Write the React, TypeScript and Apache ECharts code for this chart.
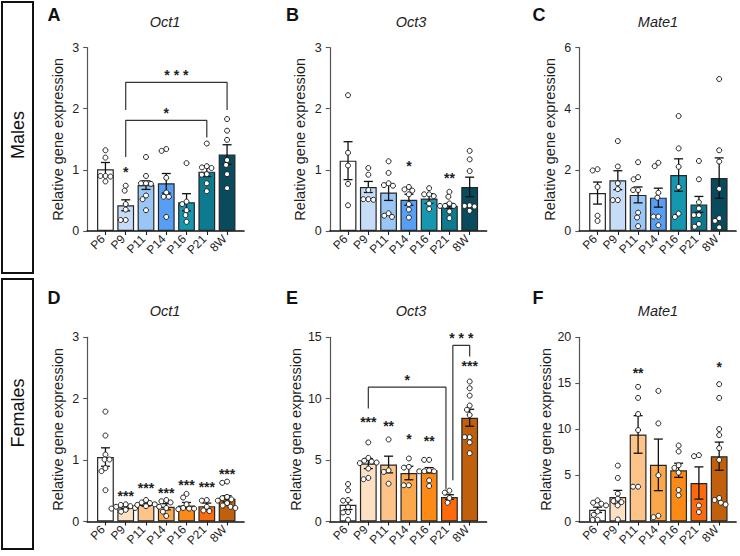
import React, { useEffect, useRef } from "react";
import * as echarts from "echarts";

const FONT = "Liberation Sans, Arial, Helvetica, sans-serif";

const CATS = ["P6", "P9", "P11", "P14", "P16", "P21", "8W"];
const MALE_COLORS = ["#ffffff", "#c7ddf7", "#9ac6f6", "#579ff4", "#1597b0", "#0c7a8f", "#094a5d"];
const FEMALE_COLORS = ["#ffffff", "#fde1c3", "#fdc388", "#fba84d", "#fc8a17", "#fc6a0c", "#c0600d"];

// Panel A – Oct1 males
const A_MEAN = [1.01, 0.42, 0.75, 0.78, 0.47, 0.97, 1.25];
const A_SEM = [0.11, 0.09, 0.07, 0.16, 0.14, 0.08, 0.16];
const A_POINTS = [
  [1.32, 1.2, 0.9, 0.9, 0.89, 0.81],
  [0.74, 0.66, 0.44, 0.35, 0.18, 0.18],
  [1.21, 0.9, 0.78, 0.78, 0.77, 0.58, 0.52, 0.34],
  [1.34, 1.31, 0.87, 0.63, 0.56, 0.56, 0.23],
  [1.11, 0.48, 0.44, 0.34, 0.26, 0.15],
  [1.43, 1.06, 1.04, 1.03, 0.93, 0.92, 0.78, 0.65],
  [1.83, 1.64, 1.49, 1.16, 1.08, 0.93, 0.7],
];
const A_STARS = [{ i: 1, y: 1.01, t: "*" }];
const A_BRACKETS = [
  { x1: 1, x2: 6, y: 2.43, y1: 1.98, y2: 1.98, ty: 2.6, t: "* * *" },
  { x1: 1, x2: 5, y: 1.81, y1: 1.21, y2: 1.53, ty: 1.98, t: "*" },
];

// Panel B – Oct3 males
const B_MEAN = [1.15, 0.72, 0.63, 0.51, 0.53, 0.41, 0.72];
const B_SEM = [0.31, 0.09, 0.13, 0.09, 0.08, 0.04, 0.16];
const B_POINTS = [
  [2.22, 1.28, 1.07, 0.77, 0.42],
  [1.03, 0.92, 0.67, 0.52, 0.52, 0.51],
  [1.14, 0.95, 0.78, 0.75, 0.74, 0.29, 0.25, 0.23],
  [0.72, 0.68, 0.66, 0.6, 0.44, 0.35, 0.22],
  [0.7, 0.6, 0.6, 0.57, 0.45, 0.36],
  [0.64, 0.56, 0.45, 0.41, 0.41, 0.41, 0.32, 0.21],
  [1.31, 1.17, 0.98, 0.42, 0.41, 0.4, 0.33],
];
const B_STARS = [
  { i: 3, y: 1.12, t: "*" },
  { i: 5, y: 0.92, t: "**" },
];
const B_BRACKETS: any[] = [];

// Panel C – Mate1 males
const C_MEAN = [1.24, 1.66, 1.18, 1.09, 1.83, 0.87, 1.73];
const C_SEM = [0.36, 0.31, 0.26, 0.31, 0.53, 0.26, 0.66];
const C_POINTS = [
  [2.02, 1.98, 1.44, 0.5, 0.33],
  [2.94, 2.11, 1.56, 1.37, 1.01, 1.01],
  [2.25, 1.76, 1.69, 1.34, 1.34, 0.6, 0.44, 0.16],
  [2.23, 2.12, 1.25, 1.09, 0.47, 0.47, 0.19],
  [3.76, 2.7, 2.1, 1.44, 0.57, 0.46],
  [2.29, 1.69, 0.94, 0.74, 0.52, 0.52, 0.23, 0.14],
  [4.97, 2.64, 2.27, 1.38, 0.42, 0.33, 0.12],
];
const C_STARS: any[] = [];
const C_BRACKETS: any[] = [];

// Panel D – Oct1 females
const D_MEAN = [1.05, 0.23, 0.27, 0.24, 0.26, 0.25, 0.37];
const D_SEM = [0.15, 0.02, 0.02, 0.05, 0.05, 0.05, 0.05];
const D_POINTS = [
  [1.79, 1.4, 1.09, 1.01, 1.01, 0.87, 0.82, 0.51],
  [0.28, 0.27, 0.25, 0.24, 0.22, 0.21, 0.19, 0.16],
  [0.35, 0.31, 0.3, 0.28, 0.27, 0.25, 0.24],
  [0.35, 0.33, 0.31, 0.22, 0.16, 0.09],
  [0.45, 0.39, 0.28, 0.22, 0.21, 0.21, 0.2],
  [0.35, 0.34, 0.24, 0.18, 0.17],
  [0.65, 0.63, 0.4, 0.38, 0.36, 0.34, 0.3, 0.26, 0.24, 0.22],
];
const D_STARS = [
  { i: 1, y: 0.47, t: "***" },
  { i: 2, y: 0.59, t: "***" },
  { i: 3, y: 0.52, t: "***" },
  { i: 4, y: 0.65, t: "***" },
  { i: 5, y: 0.61, t: "***" },
  { i: 6, y: 0.83, t: "***" },
];
const D_BRACKETS: any[] = [];

// Panel E – Oct3 females
const E_MEAN = [1.36, 4.72, 4.64, 3.95, 4.17, 1.99, 8.45];
const E_SEM = [0.38, 0.41, 0.68, 0.55, 0.22, 0.19, 0.69];
const E_POINTS = [
  [3.05, 2.54, 1.75, 1.7, 1.17, 0.76, 0.73, 0.14],
  [6.44, 5.18, 4.95, 4.88, 4.8, 4.75, 4.31, 3.55, 3.44],
  [6.68, 4.17, 4.04, 3.08],
  [5.13, 4.45, 4.39, 2.95, 2.95],
  [5.02, 5.02, 4.17, 4.09, 4.09, 4.09, 3.35, 2.89],
  [2.51, 2.35, 1.91, 1.53],
  [11.4, 10.85, 10.25, 9.44, 9.1, 8.67, 6.87, 6.87, 6.44, 5.56],
];
const E_STARS = [
  { i: 1, y: 8.4, t: "***" },
  { i: 2, y: 8.04, t: "**" },
  { i: 3, y: 6.98, t: "*" },
  { i: 4, y: 6.84, t: "**" },
  { i: 6, y: 12.9, t: "***" },
];
const E_BRACKETS = [
  { x1: 1, x2: 4.83, y: 10.94, y1: 9.2, y2: 2.62, ty: 11.8, t: "*" },
  { x1: 5.17, x2: 6, y: 14.34, y1: 3.35, y2: 13.44, ty: 15.2, t: "* * *" },
];

// Panel F – Mate1 females
const F_MEAN = [1.27, 2.65, 9.45, 6.15, 5.56, 4.18, 7.09];
const F_SEM = [0.29, 0.73, 2.04, 2.8, 0.77, 1.75, 1.53];
const F_POINTS = [
  [2.29, 2.04, 1.93, 1.75, 1.09, 0.73, 0.2, 0.18],
  [6.07, 4.73, 3.02, 2.47, 2.22, 2.1, 1.75, 0.22],
  [14.62, 13.42, 11.67, 9.93, 3.78, 3.78],
  [14.18, 10.65, 5.02, 0.62, 0.47],
  [8.25, 7.6, 6.11, 5.82, 5.31, 3.42, 2.84],
  [7.2, 7.09, 1.75, 1.02],
  [14.91, 13.42, 10.04, 9.38, 7.96, 6.69, 2.55, 2.33, 2.04, 1.85],
];
const F_STARS = [
  { i: 2, y: 16.47, t: "**" },
  { i: 6, y: 17.1, t: "*" },
];
const F_BRACKETS: any[] = [];

const PANELS = [
  { letter: "A", gene: "Oct1", mean: A_MEAN, sem: A_SEM, pts: A_POINTS, stars: A_STARS, brackets: A_BRACKETS, colors: MALE_COLORS, ymax: 3, yint: 1 },
  { letter: "B", gene: "Oct3", mean: B_MEAN, sem: B_SEM, pts: B_POINTS, stars: B_STARS, brackets: B_BRACKETS, colors: MALE_COLORS, ymax: 3, yint: 1 },
  { letter: "C", gene: "Mate1", mean: C_MEAN, sem: C_SEM, pts: C_POINTS, stars: C_STARS, brackets: C_BRACKETS, colors: MALE_COLORS, ymax: 6, yint: 2 },
  { letter: "D", gene: "Oct1", mean: D_MEAN, sem: D_SEM, pts: D_POINTS, stars: D_STARS, brackets: D_BRACKETS, colors: FEMALE_COLORS, ymax: 3, yint: 1 },
  { letter: "E", gene: "Oct3", mean: E_MEAN, sem: E_SEM, pts: E_POINTS, stars: E_STARS, brackets: E_BRACKETS, colors: FEMALE_COLORS, ymax: 15, yint: 5 },
  { letter: "F", gene: "Mate1", mean: F_MEAN, sem: F_SEM, pts: F_POINTS, stars: F_STARS, brackets: F_BRACKETS, colors: FEMALE_COLORS, ymax: 20, yint: 5 },
];

// layout
const GRID_LEFTS = [87.2, 329.8, 579.3];
const GRID_TOPS = [47.5, 337.3];
const GRID_HEIGHTS = [183.5, 184.2];
const GRID_WIDTH = 156.7;
const XMIN = -0.9;
const XMAX = 6.83;
const LETTER_X = [47.5, 286, 532.5];
const LETTER_Y = [15.3, 297.8];
const TITLE_X = [165, 411, 658];
const TITLE_Y = [22, 310.5];
const INK = "#1e1e1e";
const YAXIS_INK = "#555555";

function swarm(vals: number[], yPx: number, xPx: number): number[] {
  const D = 5.0;
  const order = vals.map((_, i) => i).sort((a, b) => vals[b] - vals[a]);
  const placed: { x: number; y: number }[] = [];
  const res = new Array(vals.length).fill(0);
  for (const i of order) {
    const y = vals[i] * yPx;
    const cands = [0];
    for (const p of placed) {
      const dy = Math.abs(y - p.y);
      if (dy < D) {
        const dx = Math.sqrt(D * D - dy * dy);
        cands.push(p.x + dx + 0.01, p.x - dx - 0.01);
      }
    }
    const ok = cands.filter((c) => placed.every((p) => Math.hypot(c - p.x, y - p.y) >= D - 0.001));
    ok.sort((a, b) => Math.abs(a) - Math.abs(b) || a - b);
    const x = ok.length ? ok[0] : 0;
    placed.push({ x, y });
    res[i] = x / xPx;
  }
  return res;
}

function buildOption() {
  const grid: any[] = [];
  const xAxis: any[] = [];
  const yAxis: any[] = [];
  const series: any[] = [];
  const graphic: any[] = [];
  const xPx = GRID_WIDTH / (XMAX - XMIN);

  PANELS.forEach((p, k) => {
    const row = Math.floor(k / 3);
    const col = k % 3;
    const h = GRID_HEIGHTS[row];
    grid.push({
      left: GRID_LEFTS[col],
      top: GRID_TOPS[row],
      width: GRID_WIDTH,
      height: h,
      containLabel: false,
      outerBoundsMode: "none",
    });
    xAxis.push({
      type: "value",
      gridIndex: k,
      min: XMIN,
      max: XMAX,
      splitLine: { show: false },
      axisLine: { show: true, onZero: false, lineStyle: { color: "#111", width: 1.7 } },
      axisTick: { show: true, length: 4, customValues: [0, 1, 2, 3, 4, 5, 6], lineStyle: { color: INK, width: 1.1 } },
      axisLabel: { show: false },
    });
    yAxis.push({
      type: "value",
      gridIndex: k,
      min: 0,
      max: p.ymax,
      interval: p.yint,
      name: "Relative gene expression",
      nameLocation: "middle",
      nameGap: 22,
      nameTextStyle: { fontSize: 14.5, color: INK, fontFamily: FONT },
      splitLine: { show: false },
      axisLine: { show: true, onZero: false, lineStyle: { color: YAXIS_INK, width: 1.2 } },
      axisTick: { show: true, length: 4, lineStyle: { color: YAXIS_INK, width: 1.1 } },
      axisLabel: { show: true, margin: 8, fontSize: 12.5, color: INK, fontFamily: FONT },
    });

    // bars
    series.push({
      type: "bar",
      xAxisIndex: k,
      yAxisIndex: k,
      barWidth: 16.8,
      silent: true,
      z: 2,
      itemStyle: { borderColor: "#262626", borderWidth: 1.2 },
      data: p.mean.map((m, i) => ({ value: [i, m], itemStyle: { color: p.colors[i] } })),
    });

    // error bars
    series.push({
      type: "custom",
      xAxisIndex: k,
      yAxisIndex: k,
      z: 3,
      silent: true,
      clip: false,
      encode: { x: 0, y: [1, 2] },
      data: p.mean.map((m, i) => [i, m - p.sem[i], m + p.sem[i]]),
      renderItem: (_params: any, api: any) => {
        const x = api.value(0);
        const lo = api.coord([x, api.value(1)]);
        const hi = api.coord([x, api.value(2)]);
        const cw = 4.5;
        const st = { stroke: "#111", lineWidth: 1.3 };
        return {
          type: "group",
          children: [
            { type: "line", shape: { x1: hi[0], y1: hi[1], x2: lo[0], y2: lo[1] }, style: st },
            { type: "line", shape: { x1: hi[0] - cw, y1: hi[1], x2: hi[0] + cw, y2: hi[1] }, style: st },
            { type: "line", shape: { x1: lo[0] - cw, y1: lo[1], x2: lo[0] + cw, y2: lo[1] }, style: st },
          ],
        };
      },
    });

    // points
    const yPx = h / p.ymax;
    const pts: number[][] = [];
    p.pts.forEach((vals, i) => {
      const offs = swarm(vals, yPx, xPx);
      vals.forEach((v, j) => pts.push([i + offs[j], v]));
    });
    series.push({
      type: "scatter",
      xAxisIndex: k,
      yAxisIndex: k,
      z: 4,
      silent: true,
      symbol: "circle",
      symbolSize: 5,
      itemStyle: { color: "#ffffff", borderColor: "#222", borderWidth: 1, opacity: 1 },
      data: pts,
    });

    // brackets
    p.brackets.forEach((b: any) => {
      series.push({
        type: "line",
        xAxisIndex: k,
        yAxisIndex: k,
        z: 3,
        silent: true,
        clip: false,
        symbol: "none",
        lineStyle: { color: "#333", width: 1.2 },
        data: [
          [b.x1, b.y1],
          [b.x1, b.y],
          [b.x2, b.y],
          [b.x2, b.y2],
        ],
      });
    });

    // significance labels
    const labels = [
      ...p.stars.map((s: any) => ({ x: s.i, y: s.y, t: s.t })),
      ...p.brackets.map((b: any) => ({ x: (b.x1 + b.x2) / 2, y: b.ty, t: b.t })),
    ];
    if (labels.length) {
      series.push({
        type: "custom",
        xAxisIndex: k,
        yAxisIndex: k,
        z: 5,
        silent: true,
        clip: false,
        data: labels.map((l) => [l.x, l.y]),
        renderItem: (params: any, api: any) => {
          const c = api.coord([api.value(0), api.value(1)]);
          const fs = 14;
          return {
            type: "text",
            x: c[0],
            y: c[1] + 0.23 * fs,
            style: {
              text: labels[params.dataIndex].t,
              fontSize: fs,
              fontWeight: "bold",
              fontFamily: FONT,
              fill: INK,
              align: "center",
              verticalAlign: "middle",
            },
          };
        },
      });
    }

    // category tick labels, rotated 45°, anchored at each tick of the x axis
    series.push({
      type: "custom",
      xAxisIndex: k,
      yAxisIndex: k,
      z: 5,
      silent: true,
      clip: false,
      data: CATS.map((_c, i) => [i, 0]),
      renderItem: (params: any, api: any) => {
        const c = api.coord([api.value(0), api.value(1)]);
        return {
          type: "text",
          x: c[0] - 2.5,
          y: c[1] + 6,
          rotation: Math.PI / 4,
          style: {
            text: CATS[params.dataIndex],
            fontSize: 12,
            fontFamily: FONT,
            fill: INK,
            align: "right",
            verticalAlign: "middle",
          },
        };
      },
    });

    graphic.push({
      type: "text",
      x: LETTER_X[col],
      y: LETTER_Y[row],
      style: { text: p.letter, fontSize: 18, fontWeight: "bold", fontFamily: FONT, fill: "#111", align: "left", verticalAlign: "middle" },
    });
    graphic.push({
      type: "text",
      x: TITLE_X[col],
      y: TITLE_Y[row],
      style: { text: p.gene, fontSize: 14.5, fontStyle: "italic", fontFamily: FONT, fill: INK, align: "center", verticalAlign: "middle" },
    });
  });

  graphic.push(
    { type: "rect", shape: { x: 2, y: 2, width: 31, height: 271 }, style: { fill: "none", stroke: "#111", lineWidth: 2 } },
    { type: "rect", shape: { x: 2, y: 279, width: 31, height: 270 }, style: { fill: "none", stroke: "#111", lineWidth: 2 } },
    {
      type: "text",
      x: 17.5,
      y: 135,
      rotation: Math.PI / 2,
      style: { text: "Males", fontSize: 18, fontFamily: FONT, fill: "#111", align: "center", verticalAlign: "middle" },
    },
    {
      type: "text",
      x: 17.5,
      y: 413,
      rotation: Math.PI / 2,
      style: { text: "Females", fontSize: 18, fontFamily: FONT, fill: "#111", align: "center", verticalAlign: "middle" },
    }
  );

  return {
    animation: false,
    backgroundColor: "#ffffff",
    textStyle: { fontFamily: FONT },
    grid,
    xAxis,
    yAxis,
    series,
    graphic,
  };
}

export default function App() {
  const ref = useRef<HTMLDivElement>(null);
  useEffect(() => {
    document.body.style.margin = "0";
    if (!ref.current) return;
    const chart = echarts.init(ref.current, undefined, { renderer: "svg" });
    chart.setOption(buildOption() as any);
    return () => chart.dispose();
  }, []);
  return <div ref={ref} style={{ width: 740, height: 556 }} />;
}
